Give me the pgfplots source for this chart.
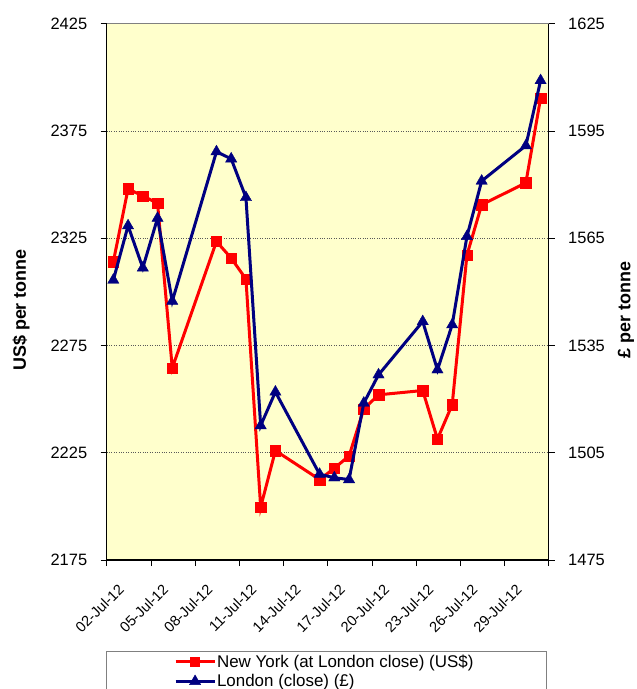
\documentclass[border=0pt]{standalone}
\usepackage{fontspec}
\setmainfont{Liberation Sans}
\usepackage{pgfplots}
\pgfplotsset{compat=1.18}
\definecolor{bgyellow}{HTML}{FFFFCC}
\definecolor{navyb}{HTML}{000080}
\definecolor{redr}{HTML}{FF0000}
\begin{document}
\begin{tikzpicture}[x=1bp,y=1bp]
\begin{axis}[
  at={(106.7bp,129bp)}, anchor=south west,
  scale only axis, width=442bp, height=536.3bp,
  xmin=0, xmax=30, ymin=2175, ymax=2425,
  axis x line=bottom, axis y line=left, axis line style={-, black, line width=1.2bp},
  axis background/.style={fill=bgyellow},
  xtick={0,3,...,30},
  xticklabels={02-Jul-12,05-Jul-12,08-Jul-12,11-Jul-12,14-Jul-12,17-Jul-12,20-Jul-12,23-Jul-12,26-Jul-12,29-Jul-12,{}},
  ytick={2175,2225,...,2425},
  tick align=outside, major tick length=6bp,
  tick style={black, line width=0.8bp},
  ymajorgrids, grid style={dotted, gray!70!black, line width=0.5bp},
  /pgf/number format/assume math mode=true,
  /pgf/number format/1000 sep={},
  yticklabel style={font=\fontsize{16.5}{18}\selectfont, xshift=-10bp},
  xticklabel style={font=\fontsize{14.7}{16}\selectfont, rotate=45, anchor=east, xshift=-1bp, yshift=-25bp},
  clip=false,
  after end axis/.code={\draw[gray, line width=1.2bp] (rel axis cs:0,1) -- (rel axis cs:1,1);},
]
\addplot[redr, line width=3bp, mark=square*, mark size=5.2bp, mark options={solid, fill=redr, draw=redr, line width=0.4bp}] coordinates {
(0.45,2314) (1.45,2348) (2.45,2344.7) (3.45,2341.3) (4.45,2264.5)
(7.45,2323.5) (8.45,2315.7) (9.45,2306) (10.45,2199.6) (11.45,2226)
(14.45,2212.5) (15.45,2217.8) (16.45,2223.5) (17.45,2245.4) (18.45,2252)
(21.45,2254) (22.45,2231.4) (23.45,2247.4) (24.45,2317.1) (25.45,2340.6)
(28.45,2350.8) (29.45,2390.3)};
\end{axis}
\begin{axis}[
  at={(106.7bp,129bp)}, anchor=south west,
  scale only axis, width=442bp, height=536.3bp,
  xmin=0, xmax=30, ymin=1475, ymax=1625,
  axis x line=none, axis y line*=right, axis line style={-, black, line width=1.2bp},
  ytick={1475,1505,...,1625},
  tick align=outside, major tick length=6bp,
  tick style={black, line width=0.8bp},
  /pgf/number format/assume math mode=true,
  /pgf/number format/1000 sep={},
  yticklabel style={font=\fontsize{16.5}{18}\selectfont, xshift=10bp},
  clip=false,
  legend style={draw=none, fill=none, at={(0.152,-0.174)}, anchor=north west,
    font=\fontsize{17}{19}\selectfont, inner sep=0pt, row sep=4bp,
    nodes={inner sep=1bp}},
  legend cell align=left,
  legend image code/.code={\draw[#1, mark repeat=2, mark phase=2] plot coordinates {(0bp,0bp) (19.5bp,0bp) (39bp,0bp)};},
]
\addlegendimage{redr, line width=3bp, mark=square*, mark size=4.6bp, mark options={solid, fill=redr, draw=redr, line width=0.4bp}}
\addlegendentry{New York (at London close) (US\$)}
\addplot[navyb, line width=3bp, mark=triangle*, mark size=6.5bp, mark options={solid, fill=navyb, draw=navyb, line width=0.4bp}] coordinates {
(0.45,1553.3) (1.45,1568.5) (2.45,1556.7) (3.45,1570.6) (4.45,1547.4)
(7.45,1589.2) (8.45,1587.2) (9.45,1576.4) (10.45,1512.6) (11.45,1522)
(14.45,1499) (15.45,1498) (16.45,1497.5) (17.45,1518.9) (18.45,1526.8)
(21.45,1541.7) (22.45,1528.2) (23.45,1540.8) (24.45,1565.5) (25.45,1581)
(28.45,1590.9) (29.45,1609.1)};
\addlegendentry{London (close) (£)}
\end{axis}
\node[rotate=90, font=\fontsize{18}{20}\selectfont\bfseries] at (21bp,379bp) {US\$ per tonne};
\node[rotate=90, font=\fontsize{18}{20}\selectfont\bfseries] at (626bp,379bp) {£ per tonne};
\draw[gray, line width=0.8bp] (546.7bp,-20bp) -- (546.7bp,37.3bp) -- (106.7bp,37.3bp) -- (106.7bp,-20bp);
\pgfresetboundingbox
\useasboundingbox (0bp,0bp) rectangle (637bp,689bp);
\end{tikzpicture}
\end{document}
